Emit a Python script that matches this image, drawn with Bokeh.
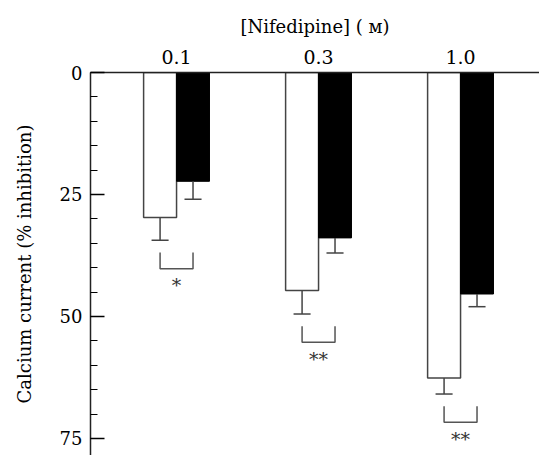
from bokeh.plotting import figure
from bokeh.models import Range1d, FixedTicker, SingleIntervalTicker, ColumnDataSource
from bokeh.embed import file_html
from bokeh.resources import INLINE
from bokeh.core.properties import value

# ---- data ----
concentrations = ["0.1", "0.3", "1.0"]
control_inhib = [29.7, 44.7, 62.6]
control_err = [4.7, 4.8, 3.3]
treated_inhib = [22.3, 33.9, 45.4]
treated_err = [3.7, 3.1, 2.6]
significance = ["*", "**", "**"]

FONT = "DejaVu Serif"
idx = list(range(len(concentrations)))
bw = 0.232
off = bw / 2
cap = 0.06

p = figure(width=539, height=455, output_backend="svg", toolbar_location=None,
           x_range=Range1d(-0.606, 2.556), y_range=Range1d(78.5, 0),
           x_axis_location="above", min_border_left=90, min_border_top=72,
           min_border_right=0, min_border_bottom=0)
p.outline_line_color = None
p.grid.visible = False
p.background_fill_color = "white"
p.border_fill_color = "white"

# top axis
xa = p.xaxis[0]
xa.ticker = FixedTicker(ticks=idx)
xa.major_label_overrides = {i: c for i, c in zip(idx, concentrations)}
xa.major_tick_in = 0
xa.major_tick_out = 0
xa.minor_tick_in = 0
xa.minor_tick_out = 0
xa.major_label_standoff = 9
xa.major_label_text_font = FONT
xa.major_label_text_font_size = "19px"
xa.major_label_text_color = "black"
xa.axis_label = "[Nifedipine] ( \u043c)"
xa.axis_label_text_font = FONT
xa.axis_label_text_font_size = "18px"
xa.axis_label_text_font_style = "normal"
xa.axis_label_text_color = "black"
xa.axis_label_standoff = 10
xa.axis_line_width = 1.5
xa.axis_line_color = "#222222"

# left axis
ya = p.yaxis[0]
ya.ticker = SingleIntervalTicker(interval=25, num_minor_ticks=5)
ya.major_tick_in = 14
ya.major_tick_out = 0
ya.minor_tick_in = 7
ya.minor_tick_out = 0
ya.major_tick_line_width = 1.3
ya.minor_tick_line_width = 1.0
ya.major_label_standoff = 8
ya.major_label_text_font = FONT
ya.major_label_text_font_size = "18px"
ya.major_label_text_color = "black"
ya.axis_label = "Calcium current (% inhibition)"
ya.axis_label_text_font = FONT
ya.axis_label_text_font_size = "18px"
ya.axis_label_text_font_style = "normal"
ya.axis_label_text_color = "black"
ya.axis_label_standoff = 22
ya.axis_line_width = 1.5
ya.axis_line_color = "#222222"

# bars
wx = [i - off for i in idx]
bx = [i + off for i in idx]
p.vbar(x=wx, top=[0] * 3, bottom=control_inhib, width=bw,
       fill_color="white", line_color="#444444", line_width=1.5)
p.vbar(x=bx, top=[0] * 3, bottom=treated_inhib, width=bw,
       fill_color="black", line_color="black", line_width=1)

# error bars
for xs, vals, errs in ((wx, control_inhib, control_err), (bx, treated_inhib, treated_err)):
    ends = [v + e for v, e in zip(vals, errs)]
    p.segment(x0=xs, y0=vals, x1=xs, y1=ends, line_color="#444444", line_width=1.5)
    p.segment(x0=[x - cap for x in xs], y0=ends, x1=[x + cap for x in xs], y1=ends,
              line_color="#444444", line_width=1.5)

# significance brackets
ctrl_end = [v + e for v, e in zip(control_inhib, control_err)]
xs_br, ys_br = [], []
for i, e in zip(idx, ctrl_end):
    t, b = e + 2.5, e + 5.8
    xl, xr = i - off, i + off
    xs_br.append([xl, xl, xr, xr])
    ys_br.append([t, b, b, t])
p.multi_line(xs=xs_br, ys=ys_br, line_color="#555555", line_width=1.5)

src = ColumnDataSource(dict(x=idx, y=[e + 9.2 for e in ctrl_end], t=significance))
p.text(x="x", y="y", text="t", source=src, text_align="center", text_baseline="middle",
       text_font=value(FONT), text_font_size="19px", text_color="#333333")

open("out.html", "w").write(file_html(p, INLINE))
